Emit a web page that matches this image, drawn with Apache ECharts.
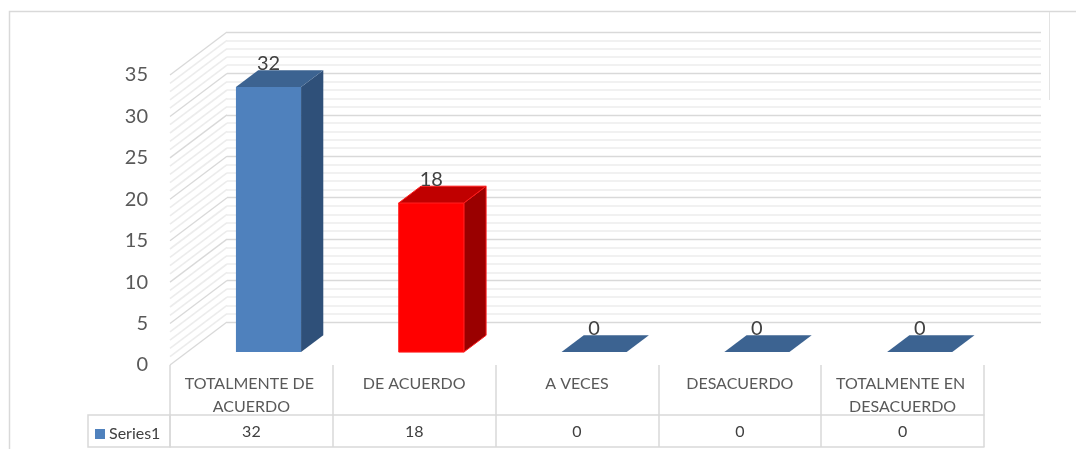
<!DOCTYPE html>
<html>
<head>
<meta charset="utf-8">
<script src="https://cdn.jsdelivr.net/npm/echarts@6/dist/echarts.min.js"></script>
<style>
html,body{margin:0;padding:0;background:#fff;}
#chart{width:1076px;height:449px;}
</style>
</head>
<body>
<div id="chart"></div>
<script>
// ---- data ----
const categories = ['TOTALMENTE DE ACUERDO', 'DE ACUERDO', 'A VECES', 'DESACUERDO', 'TOTALMENTE EN DESACUERDO'];
const values = [32, 18, 0, 0, 0];
const seriesName = 'Series1';
const yTicks = [0, 5, 10, 15, 20, 25, 30, 35];

// ---- style ----
const FONT = 'Lato';
const DX = 57, DY = 43;           // depth of the 3D box (px)
const D1 = 0.30, D2 = 0.69;       // bar front/back depth fractions
const frontCol = ['#4f81bd', '#ff0000', '#4f81bd', '#4f81bd', '#4f81bd'];
const topCol   = ['#3c6391', '#c00000', '#3c6391', '#3c6391', '#3c6391'];
const sideCol  = ['#2f5079', '#9a0000', '#2f5079', '#2f5079', '#2f5079'];
const edgeCol  = [null, '#ff1a1a', null, null, null];

const chart = echarts.init(document.getElementById('chart'));
const yMin = yTicks[0], yMax = yTicks[yTicks.length - 1], yStep = yTicks[1] - yTicks[0];

function renderBar(params, api) {
  const i = api.value(0), v = api.value(1);
  const base = api.coord([i, 0]);
  const top = api.coord([i, v]);
  const bw = api.size([1, 0])[0] * 0.4;
  const x0 = base[0] - bw / 2 + D1 * DX, x1 = x0 + bw;
  const yb = base[1] - D1 * DY, yt = top[1] - D1 * DY;
  const bx = (D2 - D1) * DX, by = (D2 - D1) * DY;
  const idx = params.dataIndex;
  const stroke = edgeCol[idx];
  const children = [];
  if (yb - yt > 0.5) {
    children.push({type: 'polygon', shape: {points: [[x1, yt], [x1 + bx, yt - by], [x1 + bx, yb - by], [x1, yb]]},
      style: {fill: sideCol[idx], stroke: stroke || 'none', lineWidth: 1}});
    children.push({type: 'rect', shape: {x: x0, y: yt, width: bw, height: yb - yt},
      style: {fill: frontCol[idx], stroke: stroke || 'none', lineWidth: 1}});
  }
  children.push({type: 'polygon', shape: {points: [[x0, yt], [x1, yt], [x1 + bx, yt - by], [x0 + bx, yt - by]]},
    style: {fill: topCol[idx], stroke: stroke || 'none', lineWidth: 1}});
  children.push({type: 'text', style: {x: x0 + bw / 2, y: yt - by - 7, text: String(v), align: 'center', verticalAlign: 'middle',
    fill: '#404040', font: '20px ' + FONT}});
  return {type: 'group', children: children};
}

function renderWall(params, api) {
  const children = [];
  const halfBand = api.size([1, 0])[0] / 2;
  for (let v = yMin; v <= yMax; v += 1) {
    const p = api.coord([0, v]);
    const x = p[0] - halfBand;
    const major = (v - yMin) % yStep === 0;
    children.push({type: 'line', shape: {x1: x, y1: p[1], x2: x + DX, y2: p[1] - DY},
      style: {stroke: major ? '#d9d9d9' : '#ececec', lineWidth: major ? 1.3 : 1.6}});
  }
  return {type: 'group', children: children};
}

const option = {
  animation: false,
  backgroundColor: '#ffffff',
  textStyle: {fontFamily: FONT},
  grid: [
    {left: 170, top: 75, width: 814, height: 290},
    {left: 170 + DX, top: 75 - DY, width: 814, height: 290},
    {left: 170, top: 415, width: 814, height: 32}
  ],
  xAxis: [
    {gridIndex: 0, type: 'category', data: categories, boundaryGap: true,
      axisLine: {show: false},
      axisTick: {show: true, length: 50, lineStyle: {color: '#d9d9d9', width: 1.5}},
      axisLabel: {interval: 0, fontFamily: FONT, fontSize: 16, color: '#595959', lineHeight: 23, margin: 7,
        width: 152, overflow: 'break', align: 'center'},
      splitLine: {show: false}},
    {gridIndex: 1, type: 'value', min: 0, max: 1, show: false},
    {gridIndex: 2, type: 'category', data: values.map(String), position: 'top',
      axisLine: {show: true, onZero: false, lineStyle: {color: '#d9d9d9', width: 1.5}},
      axisTick: {show: true, inside: true, length: 32, interval: 0, lineStyle: {color: '#d9d9d9', width: 1.5}},
      axisLabel: {inside: true, interval: 0, margin: 17, verticalAlign: 'middle', fontFamily: FONT, fontSize: 16, color: '#404040'}},
    {gridIndex: 2, type: 'category', data: values.map(String), position: 'bottom',
      axisLine: {show: true, onZero: false, lineStyle: {color: '#d9d9d9', width: 1.5}},
      axisTick: {show: false}, axisLabel: {show: false}}
  ],
  yAxis: [
    {gridIndex: 0, type: 'value', min: yMin, max: yMax, interval: yStep,
      axisLine: {show: false}, axisTick: {show: false}, splitLine: {show: false},
      axisLabel: {fontFamily: FONT, fontSize: 20, color: '#595959', margin: 22}},
    {gridIndex: 1, type: 'value', min: yMin, max: yMax, interval: yStep,
      axisLine: {show: false}, axisTick: {show: false}, axisLabel: {show: false},
      splitLine: {show: true, lineStyle: {color: '#d9d9d9', width: 1.3}},
      minorTick: {show: false, splitNumber: 5},
      minorSplitLine: {show: true, lineStyle: {color: '#ececec', width: 1.6}}},
    {gridIndex: 2, type: 'value', min: 0, max: 1,
      axisLine: {show: false}, axisTick: {show: false}, axisLabel: {show: false}, splitLine: {show: false}}
  ],
  legend: {
    data: [{name: seriesName, icon: 'rect', itemStyle: {color: '#4f81bd'}}],
    left: 95, top: 426, padding: 0, itemWidth: 10, itemHeight: 10, itemGap: 5,
    textStyle: {fontFamily: FONT, fontSize: 16, color: '#404040', padding: [0, 0, 0, -1]},
    selectedMode: false
  },
  series: [
    {type: 'custom', name: 'wall', xAxisIndex: 0, yAxisIndex: 0, data: [[0, 0]], renderItem: renderWall,
      z: 1, silent: true},
    {type: 'custom', name: seriesName, xAxisIndex: 0, yAxisIndex: 0,
      data: values.map((v, i) => [i, v]), encode: {x: 0, y: 1},
      itemStyle: {color: '#4f81bd'}, renderItem: renderBar, z: 5}
  ],
  graphic: [
    {type: 'rect', shape: {x: 9.5, y: 11.5, width: 1200, height: 600}, style: {fill: 'none', stroke: '#d9d9d9', lineWidth: 1.5}, silent: true, z: 0},
    {type: 'line', shape: {x1: 1049.5, y1: 12, x2: 1049.5, y2: 100}, style: {stroke: '#e3e3e3', lineWidth: 1}, silent: true},
    {type: 'rect', shape: {x: 88, y: 415, width: 82, height: 32}, style: {fill: 'none', stroke: '#d9d9d9', lineWidth: 1.5}, silent: true}
  ]
};
chart.setOption(option);
</script>
</body>
</html>
